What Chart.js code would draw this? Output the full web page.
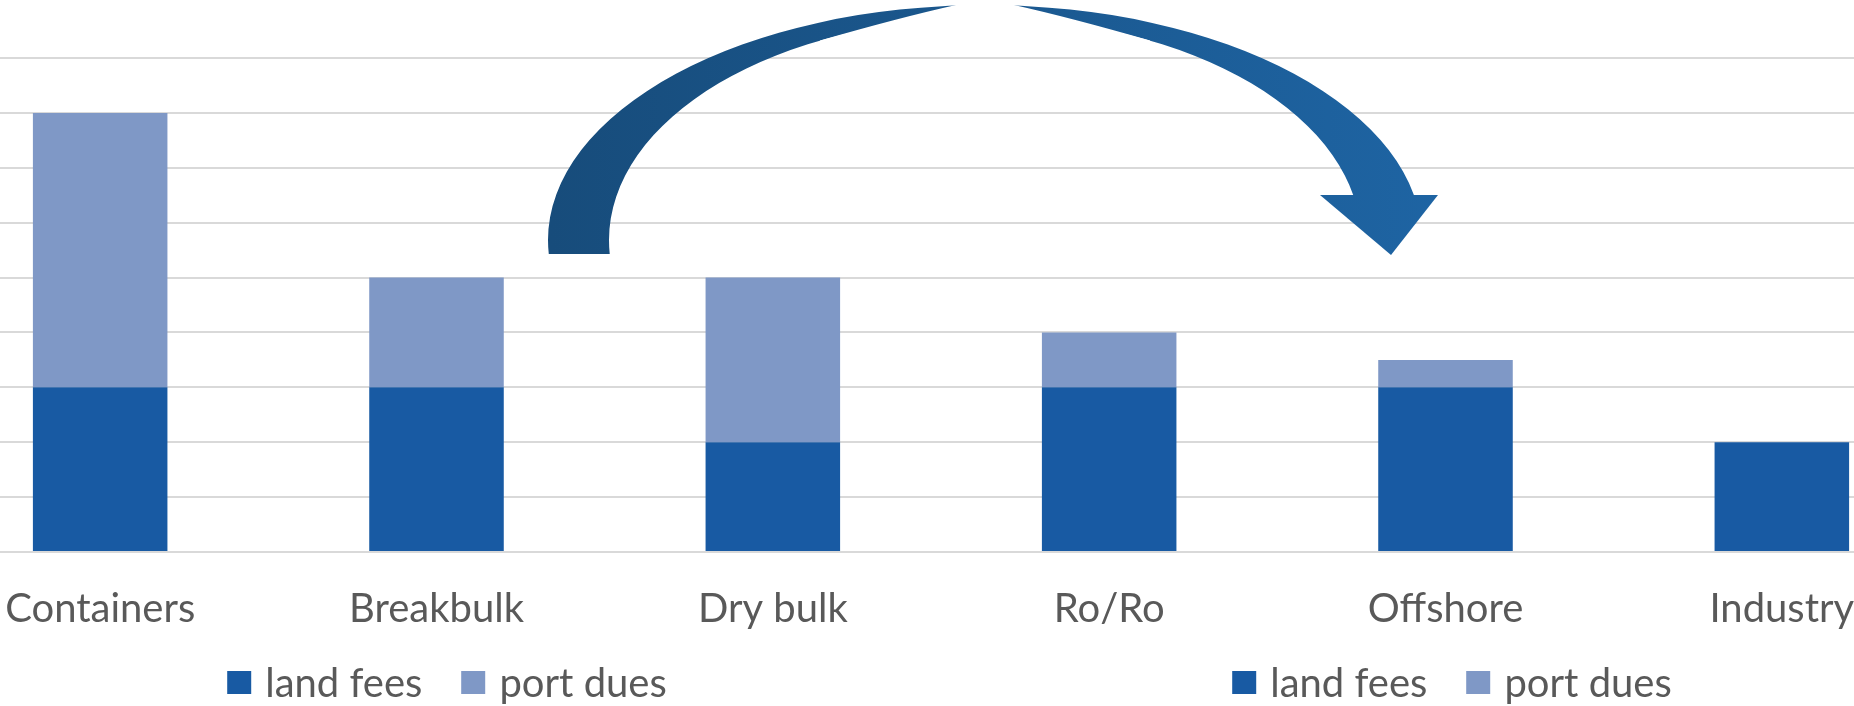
<!DOCTYPE html>
<html lang="en">
<head>
<meta charset="UTF-8">
<title>Land fees and port dues per segment</title>
<script src="https://cdn.jsdelivr.net/npm/chart.js"></script>
<style>
  html, body { margin: 0; padding: 0; background: #fff; overflow: hidden; }
  body { width: 1854px; height: 706px; position: relative; font-family: Lato, sans-serif; }
  /* the picture is a crop of a wider chart: first and last category slots run off the edges */
  .wrap { position: absolute; left: -68px; top: 0; width: 2018px; height: 706px; }
  .legend { position: absolute; top: 658px; transform: translateX(-50%); display: flex; gap: 39px;
            font-size: 40px; line-height: 48px; color: #595959; white-space: nowrap; }
  .legend .item { display: flex; align-items: center; }
  .legend .box { display: inline-block; width: 24px; height: 23px; margin-right: 14px; }
</style>
</head>
<body>
<div class="wrap"><canvas id="chart"></canvas></div>
<div class="legend" id="legendLeft" style="left:447px"></div>
<div class="legend" id="legendRight" style="left:1452px"></div>

<script>
// data (grid units)
const categories = ['Containers', 'Breakbulk', 'Dry bulk', 'Ro/Ro', 'Offshore', 'Industry'];
const landFees = [3, 3, 2, 3, 3, 2];
const portDues = [5, 2, 3, 1, 0.5, 0];
const seriesNames = ['land fees', 'port dues'];
const yMax = 9;

const colors = ['#185AA3', '#7F98C6'];
const SHIFT = 68; // canvas starts 68px left of the page

// curved arrow drawn over the plot, in page pixels
const arrowPlugin = {
  id: 'bentArrow',
  afterDatasetsDraw(chart) {
    const ctx = chart.ctx;
    ctx.save();
    ctx.translate(SHIFT, 0);
    const grad = ctx.createLinearGradient(550, 0, 1440, 0);
    grad.addColorStop(0, '#174C7B');
    grad.addColorStop(1, '#1E64A3');
    ctx.fillStyle = grad;

    const band = () => {
      ctx.beginPath();
      ctx.ellipse(985, 240, 437, 235, 0, 0, Math.PI * 2);
      ctx.moveTo(985 + 376, 240);
      ctx.ellipse(985, 240, 376, 222, 0, 0, Math.PI * 2, true);
      ctx.fill('evenodd');
    };

    // left part, tapering to a point at the top
    ctx.save();
    ctx.beginPath();
    ctx.moveTo(0, 0); ctx.lineTo(956, 0); ctx.lineTo(956, 5);
    ctx.quadraticCurveTo(900, 17.5, 820, 40.5);
    ctx.lineTo(820, 254); ctx.lineTo(0, 254); ctx.closePath();
    ctx.clip();
    band();
    ctx.restore();

    // right part down to the head
    ctx.save();
    ctx.beginPath();
    ctx.moveTo(1014, 0); ctx.lineTo(1600, 0); ctx.lineTo(1600, 195); ctx.lineTo(1150, 195);
    ctx.lineTo(1150, 40.5);
    ctx.quadraticCurveTo(1070, 17.5, 1014, 5);
    ctx.closePath();
    ctx.clip();
    band();
    ctx.restore();

    // head
    ctx.beginPath();
    ctx.moveTo(1320, 195);
    ctx.lineTo(1438, 195);
    ctx.lineTo(1391, 255);
    ctx.closePath();
    ctx.fill();
    ctx.restore();
  }
};

new Chart(document.getElementById('chart'), {
  type: 'bar',
  data: {
    labels: categories,
    datasets: [
      { label: seriesNames[0], data: landFees, backgroundColor: colors[0] },
      { label: seriesNames[1], data: portDues, backgroundColor: colors[1] }
    ]
  },
  options: {
    responsive: true,
    maintainAspectRatio: false,
    animation: false,
    layout: { padding: { top: 58, bottom: 40, left: 0, right: 0 } },
    datasets: { bar: { barPercentage: 0.4, categoryPercentage: 1.0, borderWidth: 0 } },
    plugins: { legend: { display: false }, tooltip: { enabled: false } },
    scales: {
      x: {
        stacked: true,
        grid: { display: false, drawTicks: false },
        border: { display: false },
        ticks: { color: '#595959', padding: 33, maxRotation: 0, autoSkip: false,
                 font: { family: 'Lato', size: 40 } }
      },
      y: {
        stacked: true,
        min: 0,
        max: yMax,
        ticks: { display: false, stepSize: 1 },
        grid: { color: '#D9D9D9', lineWidth: 2, drawTicks: false },
        border: { display: false }
      }
    }
  },
  plugins: [arrowPlugin]
});

// the picture shows the same legend twice
['legendLeft', 'legendRight'].forEach(id => {
  const el = document.getElementById(id);
  seriesNames.forEach((name, i) => {
    const item = document.createElement('span');
    item.className = 'item';
    const box = document.createElement('span');
    box.className = 'box';
    box.style.background = colors[i];
    item.appendChild(box);
    item.appendChild(document.createTextNode(name));
    el.appendChild(item);
  });
});
</script>
</body>
</html>
